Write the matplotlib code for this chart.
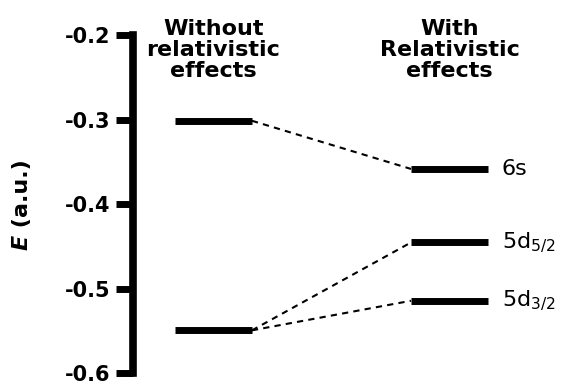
import matplotlib
matplotlib.use("Agg")
import matplotlib.pyplot as plt

plt.rcParams["font.family"] = ["DejaVu Sans"]

# energy levels (a.u.)
nonrel_levels = [-0.301, -0.549]
rel_levels = [-0.358, -0.445, -0.514]
rel_labels = ["6s", r"5d$_{5/2}$", r"5d$_{3/2}$"]
# which non-relativistic level each relativistic level comes from
parent = [0, 1, 1]
columns = [1, 2]
headers = ["Without\nrelativistic\neffects", "With\nRelativistic\neffects"]
yticks = [-0.6, -0.5, -0.4, -0.3, -0.2]

half = 0.163

fig = plt.figure(figsize=(5.62, 3.85), dpi=100)
ax = fig.add_axes([0.2367, 0.03, 0.7633, 0.878])

for y in nonrel_levels:
    ax.plot([columns[0] - half, columns[0] + half], [y, y], color="black",
            lw=5, solid_capstyle="butt")
for y, lab in zip(rel_levels, rel_labels):
    ax.plot([columns[1] - half, columns[1] + half], [y, y], color="black",
            lw=5, solid_capstyle="butt")
    ax.text(columns[1] + half + 0.058, y, lab, fontsize=16, va="center", ha="left")

for y, p in zip(rel_levels, parent):
    ax.plot([columns[0] + half, columns[1] - half], [nonrel_levels[p], y],
            color="black", lw=1.5, ls=(0, (3, 2.5)))

for x, h in zip(columns, headers):
    ax.text(x, -0.2175, h, fontsize=16, fontweight="bold", ha="center",
            va="center", linespacing=1.08, clip_on=False)

ax.set_xlim(0.659, 2.477)
ax.set_ylim(-0.6, -0.2)
ax.set_yticks(yticks)
ax.set_yticklabels([f"{t:.1f}" for t in yticks], fontsize=15, fontweight="bold")
ax.tick_params(axis="y", length=12, width=5, pad=4)
ax.set_xticks([])
for s in ["top", "right", "bottom"]:
    ax.spines[s].set_visible(False)
ax.spines["left"].set_linewidth(5.5)
ax.spines["left"].set_capstyle("projecting")

# y label: italic E + upright units
fig.text(0.039, 0.3896, "E", fontsize=16, fontweight="bold", style="italic",
         rotation=90, ha="center", va="top")
fig.text(0.039, 0.3896, " (a.u.)", fontsize=16, fontweight="bold",
         rotation=90, ha="center", va="bottom")

fig.savefig("out.png", dpi=100)
